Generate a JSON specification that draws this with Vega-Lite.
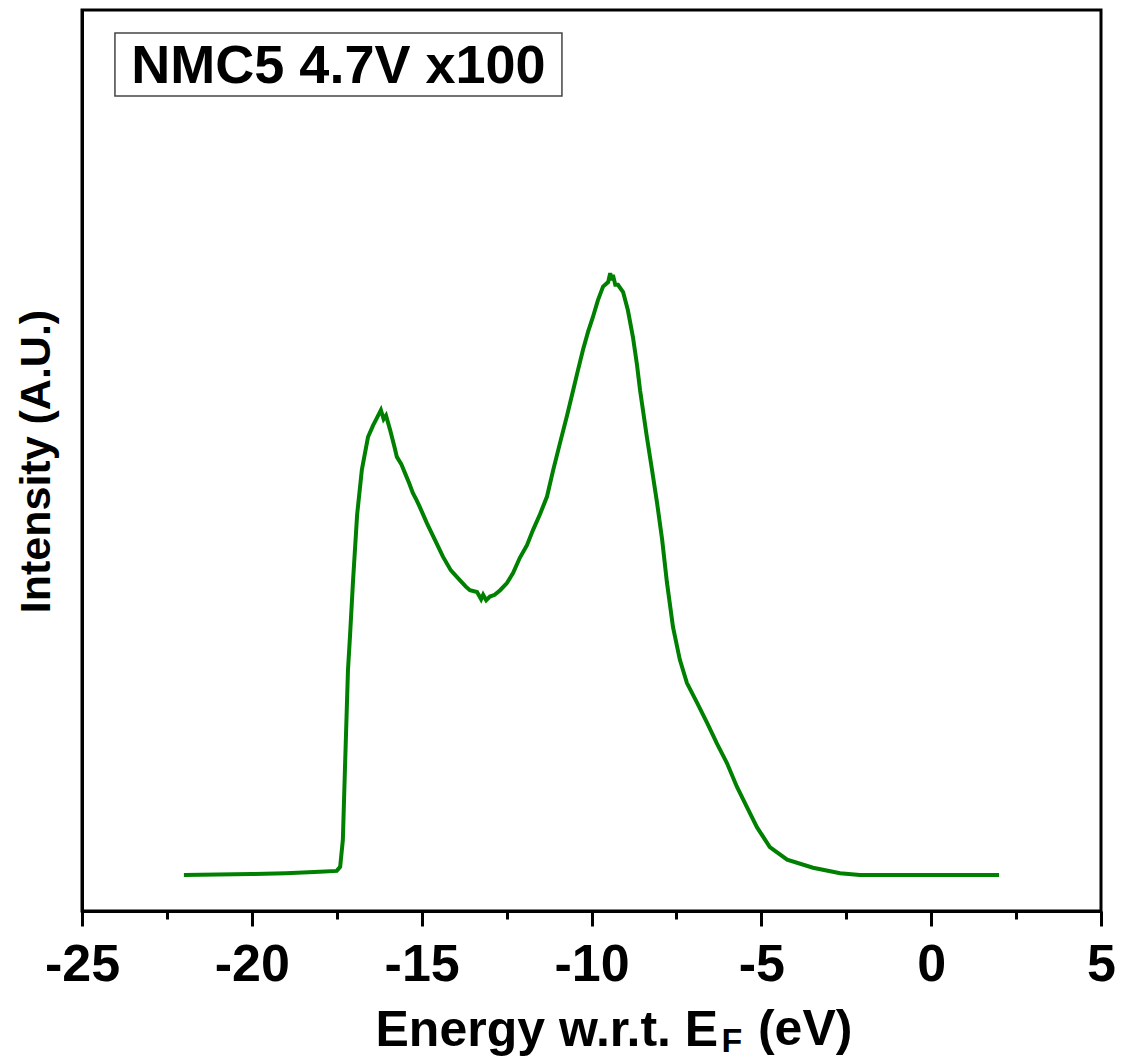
{
  "$schema": "https://vega.github.io/schema/vega-lite/v6.json",
  "width": 1019,
  "height": 901,
  "autosize": {"type": "none"},
  "padding": {"left": 82, "top": 10, "right": 21, "bottom": 148},
  "background": "white",
  "config": {
    "font": "Liberation Sans",
    "view": {"stroke": "black", "strokeWidth": 3}
  },
  "datasets": {
    "spectrum": [
      {"E": -22.0, "I": 4.0}, {"E": -21.0, "I": 4.05}, {"E": -20.0, "I": 4.1}, {"E": -19.0, "I": 4.2},
      {"E": -18.0, "I": 4.35}, {"E": -17.5, "I": 4.45}, {"E": -17.4, "I": 4.9}, {"E": -17.32, "I": 7.9},
      {"E": -17.26, "I": 15.6}, {"E": -17.17, "I": 26.7}, {"E": -17.11, "I": 30.5}, {"E": -17.02, "I": 36.7},
      {"E": -16.9, "I": 44.0}, {"E": -16.76, "I": 49.0}, {"E": -16.58, "I": 52.6}, {"E": -16.43, "I": 53.9},
      {"E": -16.32, "I": 54.7}, {"E": -16.2, "I": 55.6}, {"E": -16.12, "I": 54.6}, {"E": -16.05, "I": 55.0},
      {"E": -15.93, "I": 53.4}, {"E": -15.8, "I": 51.5}, {"E": -15.73, "I": 50.4}, {"E": -15.6, "I": 49.6},
      {"E": -15.49, "I": 48.6}, {"E": -15.37, "I": 47.5}, {"E": -15.26, "I": 46.4}, {"E": -15.15, "I": 45.6},
      {"E": -15.05, "I": 44.8}, {"E": -14.84, "I": 43.0}, {"E": -14.61, "I": 41.2}, {"E": -14.37, "I": 39.3},
      {"E": -14.14, "I": 37.8}, {"E": -13.87, "I": 36.7}, {"E": -13.7, "I": 36.0}, {"E": -13.58, "I": 35.6},
      {"E": -13.37, "I": 35.4}, {"E": -13.25, "I": 34.6}, {"E": -13.19, "I": 35.1}, {"E": -13.1, "I": 34.5},
      {"E": -12.99, "I": 34.9}, {"E": -12.85, "I": 35.1}, {"E": -12.69, "I": 35.6}, {"E": -12.49, "I": 36.4},
      {"E": -12.31, "I": 37.5}, {"E": -12.11, "I": 39.2}, {"E": -11.9, "I": 40.6}, {"E": -11.72, "I": 42.3},
      {"E": -11.52, "I": 44.0}, {"E": -11.31, "I": 46.0}, {"E": -11.13, "I": 48.9}, {"E": -10.93, "I": 51.9},
      {"E": -10.72, "I": 55.0}, {"E": -10.54, "I": 57.8}, {"E": -10.4, "I": 60.0}, {"E": -10.25, "I": 62.3},
      {"E": -10.1, "I": 64.3}, {"E": -9.96, "I": 65.9}, {"E": -9.81, "I": 67.8}, {"E": -9.66, "I": 69.3},
      {"E": -9.51, "I": 69.8}, {"E": -9.45, "I": 70.8}, {"E": -9.4, "I": 70.0}, {"E": -9.37, "I": 70.6},
      {"E": -9.3, "I": 69.5}, {"E": -9.22, "I": 69.5}, {"E": -9.07, "I": 68.7}, {"E": -8.93, "I": 66.7},
      {"E": -8.78, "I": 63.7}, {"E": -8.66, "I": 60.6}, {"E": -8.57, "I": 57.8}, {"E": -8.37, "I": 52.6},
      {"E": -8.22, "I": 49.0}, {"E": -8.07, "I": 45.3}, {"E": -7.92, "I": 41.2}, {"E": -7.78, "I": 36.5},
      {"E": -7.6, "I": 31.5}, {"E": -7.4, "I": 27.9}, {"E": -7.19, "I": 25.3}, {"E": -6.89, "I": 23.1},
      {"E": -6.6, "I": 20.9}, {"E": -6.31, "I": 18.6}, {"E": -6.01, "I": 16.4}, {"E": -5.72, "I": 13.8},
      {"E": -5.42, "I": 11.5}, {"E": -5.13, "I": 9.3}, {"E": -4.75, "I": 7.1}, {"E": -4.24, "I": 5.7},
      {"E": -3.48, "I": 4.8}, {"E": -2.68, "I": 4.2}, {"E": -2.1, "I": 4.0}, {"E": 0.0, "I": 4.0},
      {"E": 2.0, "I": 4.0}
    ]
  },
  "layer": [
    {
      "data": {"name": "spectrum"},
      "mark": {"type": "line", "color": "#008000", "strokeWidth": 4, "clip": true},
      "encoding": {
        "x": {
          "field": "E", "type": "quantitative",
          "scale": {"domain": [-25, 5], "nice": false, "zero": false},
          "axis": {
            "values": [-25, -22.5, -20, -17.5, -15, -12.5, -10, -7.5, -5, -2.5, 0, 2.5, 5],
            "labelExpr": "datum.value % 5 === 0 ? '' + datum.value : ''",
            "grid": false,
            "domainColor": "black", "domainWidth": 3,
            "tickColor": "black", "tickWidth": 3,
            "tickSize": {"condition": {"test": "datum.value % 5 === 0", "value": 15}, "value": 8},
            "labelFontSize": 52, "labelFontWeight": "bold", "labelColor": "black",
            "labelPadding": 13, "labelFlush": false, "labelOverlap": false,
            "title": "Energy w.r.t. E",
            "titleFontSize": 50, "titleFontWeight": "bold", "titleColor": "black",
            "titleAlign": "left", "titleBaseline": "alphabetic",
            "titleX": 293, "titleY": 134
          }
        },
        "y": {
          "field": "I", "type": "quantitative",
          "scale": {"domain": [0, 100], "nice": false, "zero": false},
          "axis": {
            "ticks": false, "labels": false, "grid": false,
            "domainColor": "black", "domainWidth": 3,
            "title": "Intensity (A.U.)",
            "titleFontSize": 43, "titleFontWeight": "bold", "titleColor": "black",
            "titleAngle": 270, "titleAlign": "center", "titleBaseline": "middle",
            "titleX": -46, "titleY": 451
          }
        }
      }
    },
    {
      "data": {"values": [{}]},
      "mark": {"type": "text", "text": "F", "fontSize": 34, "fontWeight": "bold", "align": "left", "baseline": "alphabetic", "color": "black"},
      "encoding": {
        "x": {"datum": -6.17, "type": "quantitative", "scale": {"domain": [-25, 5], "nice": false, "zero": false}},
        "y": {"datum": -15.6, "type": "quantitative", "scale": {"domain": [0, 100], "nice": false, "zero": false}}
      }
    },
    {
      "data": {"values": [{}]},
      "mark": {"type": "text", "text": "(eV)", "fontSize": 50, "fontWeight": "bold", "align": "left", "baseline": "alphabetic", "color": "black"},
      "encoding": {
        "x": {"datum": -5.1, "type": "quantitative", "scale": {"domain": [-25, 5], "nice": false, "zero": false}},
        "y": {"datum": -14.87, "type": "quantitative", "scale": {"domain": [0, 100], "nice": false, "zero": false}}
      }
    },
    {
      "data": {"values": [{}]},
      "mark": {"type": "rect", "fill": "white", "stroke": "#444444", "strokeWidth": 1.5},
      "encoding": {
        "x": {"datum": -24.03, "type": "quantitative", "scale": {"domain": [-25, 5], "nice": false, "zero": false}},
        "x2": {"datum": -10.87},
        "y": {"datum": 97.45, "type": "quantitative", "scale": {"domain": [0, 100], "nice": false, "zero": false}},
        "y2": {"datum": 90.45}
      }
    },
    {
      "data": {"values": [{}]},
      "mark": {"type": "text", "text": "NMC5 4.7V x100", "fontSize": 54, "fontWeight": "bold", "align": "center", "baseline": "alphabetic", "color": "black"},
      "encoding": {
        "x": {"datum": -17.45, "type": "quantitative", "scale": {"domain": [-25, 5], "nice": false, "zero": false}},
        "y": {"datum": 91.9, "type": "quantitative", "scale": {"domain": [0, 100], "nice": false, "zero": false}}
      }
    }
  ]
}
